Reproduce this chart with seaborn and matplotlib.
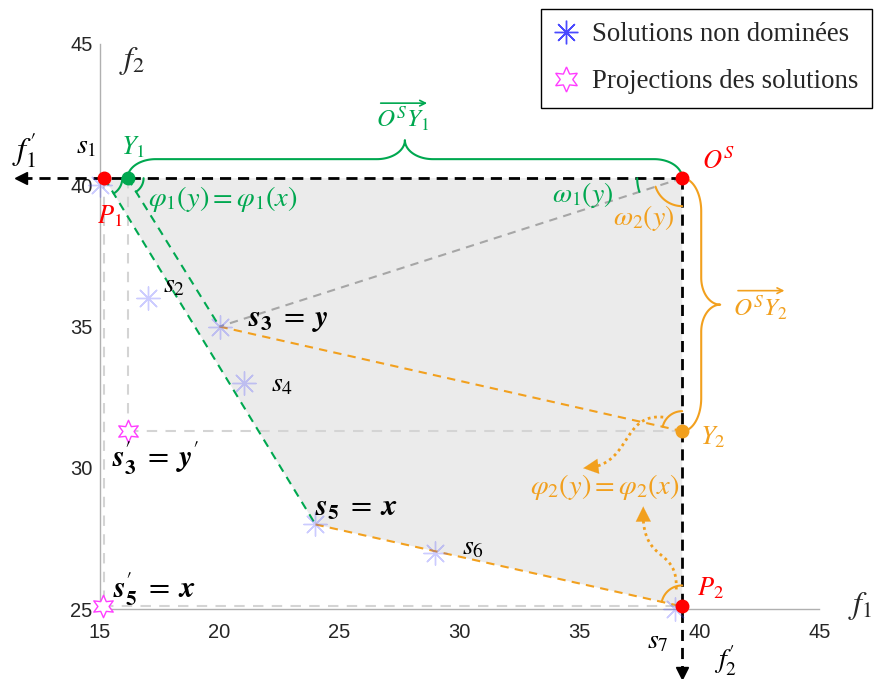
import numpy as np
import matplotlib.pyplot as plt
import seaborn as sns
from matplotlib.lines import Line2D

# Solutions non dominées (f1, f2)
sol_f1 = [15, 17, 20, 21, 24, 29, 39]
sol_f2 = [40, 36, 35, 33, 28, 27, 25]
sol_noms = ["$s_1$", "$s_2$", "$s_3$", "$s_4$", "$s_5$", "$s_6$", "$s_7$"]

# Projections des solutions s3' et s5'
proj_f1 = [16.17, 15.15]
proj_f2 = [31.3, 25.1]

# Points de référence
P1 = (15.2, 40.25)
Y1 = (16.17, 40.25)
OS = (39.28, 40.25)
Y2 = (39.28, 31.3)
P2 = (39.28, 25.1)
S3 = (sol_f1[2], sol_f2[2])
S5 = (sol_f1[4], sol_f2[4])

# fin des axes f1' et f2'
f1p_fin = 11.73
f2p_fin = 22.75

x_ticks = [15, 20, 25, 30, 35, 40, 45]
y_ticks = [25, 30, 35, 40, 45]

VERT = "#00a850"
ORANGE = "#f2a01e"
ROUGE = "#ff0000"
ROSE = "#ff3cff"
BLEU = "#4a4aff"

sns.set_style("white")
plt.rcParams["mathtext.fontset"] = "stix"
plt.rcParams["font.family"] = ["DejaVu Sans"]

fig = plt.figure(figsize=(8.79, 6.79), dpi=100)
ax = fig.add_axes([0.1132, 0.1027, 0.8191, 0.8327])
ax.set_xlim(15, 45)
ax.set_ylim(25, 45)

SX = 879 * 0.8191 / 30   # pixels par unité
SY = 679 * 0.8327 / 20


def px(p, dx, dy):
    return (p[0] + dx / SX, p[1] + dy / SY)


def angle(p, q):
    return np.degrees(np.arctan2((q[1] - p[1]) * SY, (q[0] - p[0]) * SX))


def arc(p, r, a0, a1, color, lw=1.5):
    t = np.radians(np.linspace(a0, a1, 40))
    ax.plot(p[0] + r * np.cos(t) / SX, p[1] + r * np.sin(t) / SY,
            color=color, lw=lw, clip_on=False, zorder=4)


def accolade(p0, p1, color, r1=28, r2=28, h1=19, h2=19):
    a = np.array([(p1[0] - p0[0]) * SX, (p1[1] - p0[1]) * SY])
    L = np.hypot(*a)
    u = a / L
    n = np.array([-u[1], u[0]])
    th = np.linspace(0, np.pi / 2, 30)
    s = np.concatenate([r1 - r1 * np.cos(th), L / 2 - r2 + r2 * np.sin(th)])
    t = np.concatenate([h1 * np.sin(th), h1 + h2 - h2 * np.cos(th)])
    s = np.concatenate([s, (L - s)[::-1]])
    t = np.concatenate([t, t[::-1]])
    xs = p0[0] + (s * u[0] + t * n[0]) / SX
    ys = p0[1] + (s * u[1] + t * n[1]) / SY
    ax.plot(xs, ys, color=color, lw=1.5, clip_on=False, zorder=4)
    mid = (L / 2) * u + (h1 + h2) * n
    return (p0[0] + mid[0] / SX, p0[1] + mid[1] / SY)


def fleche_pointillee(p, pts, color):
    q = np.array(pts, dtype=float)
    t = np.linspace(0, 1, 80)[:, None]
    b = ((1 - t) ** 3 * q[0] + 3 * (1 - t) ** 2 * t * q[1]
         + 3 * (1 - t) * t ** 2 * q[2] + t ** 3 * q[3])
    xs = p[0] + b[:, 0] / SX
    ys = p[1] + b[:, 1] / SY
    ax.plot(xs[:-4], ys[:-4], color=color, lw=2, ls=(0, (1, 1.3)), zorder=4)
    ax.annotate("", xy=(xs[-1], ys[-1]), xytext=(xs[-8], ys[-8]),
                arrowprops=dict(arrowstyle="-|>,head_length=0.6,head_width=0.3",
                                color=color, lw=0.1, mutation_scale=18,
                                shrinkA=0, shrinkB=0), zorder=4)


def lab(txt, p, dx, dy, color="black", size=20, ha="center"):
    ax.annotate(txt, xy=p, xytext=(dx, dy), textcoords="offset pixels",
                ha=ha, va="center", color=color, fontsize=size,
                annotation_clip=False, zorder=6)


# zone grisée
poly = np.array([P1, OS, P2, S5])
ax.fill(poly[:, 0], poly[:, 1], color="#ebebeb", zorder=0, lw=0)

# lignes de projection
gris = dict(color="#d4d4d4", lw=1.5, dashes=(5, 4), zorder=1)
ax.plot([P1[0], P1[0]], [P1[1], proj_f2[1]], **gris)
ax.plot([Y1[0], Y1[0]], [Y1[1], proj_f2[0]], **gris)
ax.plot([proj_f1[0], Y2[0]], [proj_f2[0], Y2[1]], **gris)
ax.plot([proj_f1[1], P2[0]], [proj_f2[1], P2[1]], **gris)

# segments
ax.plot([P1[0], S5[0]], [P1[1], S5[1]], color=VERT, lw=1.5, dashes=(4, 3), zorder=2)
ax.plot([Y1[0], S3[0]], [Y1[1], S3[1]], color=VERT, lw=1.5, dashes=(4, 3), zorder=2)
ax.plot([S3[0], Y2[0]], [S3[1], Y2[1]], color=ORANGE, lw=1.5, dashes=(4, 3), zorder=2)
ax.plot([S5[0], P2[0]], [S5[1], P2[1]], color=ORANGE, lw=1.5, dashes=(4, 3), zorder=2)
ax.plot([OS[0], S3[0]], [OS[1], S3[1]], color="#a6a6a6", lw=1.5, dashes=(4, 3), zorder=2)

# axes f1' et f2'
ax.plot([OS[0], f1p_fin], [OS[1], OS[1]], color="black", lw=2, dashes=(4, 2.5),
        clip_on=False, zorder=3)
ax.plot([OS[0], OS[0]], [OS[1], f2p_fin], color="black", lw=2, dashes=(4, 2.5),
        clip_on=False, zorder=3)
ax.plot([f1p_fin], [OS[1]], marker="<", ms=9, color="black", clip_on=False, zorder=3)
ax.plot([OS[0]], [f2p_fin], marker="v", ms=9, color="black", clip_on=False, zorder=3)

# solutions
sns.scatterplot(x=sol_f1, y=sol_f2, marker=(8, 2, 0), s=280, color=BLEU,
                edgecolor=BLEU, linewidth=1, alpha=0.28, ax=ax, legend=False,
                clip_on=False, zorder=3)
sns.scatterplot(x=proj_f1, y=proj_f2, marker=(6, 1, 0), s=260, facecolor="white",
                edgecolor=ROSE, linewidth=1, ax=ax, legend=False, clip_on=False,
                zorder=3)

# points particuliers
for p, c in [(P1, ROUGE), (OS, ROUGE), (P2, ROUGE), (Y1, VERT), (Y2, ORANGE)]:
    ax.plot([p[0]], [p[1]], "o", ms=9, color=c, clip_on=False, zorder=5)

# angles
arc(P1, 18, angle(P1, S5), 0, VERT)
arc(Y1, 16, angle(Y1, S3), 0, VERT)
arc(OS, 45, 180, angle(OS, S3) % 360, VERT)
arc(OS, 28, angle(OS, S3) % 360, 270, ORANGE)
arc(Y2, 20, 90, angle(Y2, S3), ORANGE)
arc(P2, 21, 90, angle(P2, S5), ORANGE)

# accolades
pv = accolade(Y1, OS, VERT)
po = accolade(OS, Y2, ORANGE, r1=33, r2=27)
lab("$O^SY_1$", pv, -2, 22, VERT, 18)
ax.annotate("", xy=px(pv, 25, 37), xytext=px(pv, -27, 37),
            arrowprops=dict(arrowstyle="->", color=VERT, lw=1.2), annotation_clip=False)
lab("$O^SY_2$", po, 40, -3, ORANGE, 18)
ax.annotate("", xy=px(po, 67, 14), xytext=px(po, 15, 14),
            arrowprops=dict(arrowstyle="->", color=ORANGE, lw=1.2), annotation_clip=False)

# flèches pointillées
fleche_pointillee(Y2, [(-19, 14), (-62, 18), (-50, -36), (-99, -37)], ORANGE)
fleche_pointillee(P2, [(-6, 17), (-4, 62), (-42, 40), (-39, 100)], ORANGE)

# étiquettes
lab(sol_noms[0], P1, -18, 33)
lab("$Y_1$", Y1, 5, 31, VERT, 19)
lab("$P_1$", P1, 5, -38, ROUGE, 19)
lab(sol_noms[1], (sol_f1[1], sol_f2[1]), 27, 14)
lab(r"$\mathbfit{s}_\mathbf{3}\;=\;\mathbfit{y}$", S3, 28, 7, size=22, ha="left")
lab(sol_noms[3], (sol_f1[3], sol_f2[3]), 27, 0, ha="left")
lab(r"$\mathbfit{s}^{\prime}_\mathbf{3}\;=\;\mathbfit{y}^{\prime}$", (proj_f1[0], proj_f2[0]),
    -16, -27, size=22, ha="left")
lab(r"$\mathbfit{s}_\mathbf{5}\;=\;\mathbfit{x}$", S5, 0, 17, size=22, ha="left")
lab(sol_noms[5], (sol_f1[5], sol_f2[5]), 27, 6, ha="left")
lab(r"$\mathbfit{s}^{\prime}_\mathbf{5}\;=\;\mathbfit{x}$", (proj_f1[1], proj_f2[1]),
    10, 17, size=22, ha="left")
lab(sol_noms[6], (sol_f1[6], sol_f2[6]), -18, -31)
lab("$P_2$", P2, 28, 18, ROUGE, 19)
lab("$Y_2$", Y2, 31, -6, ORANGE, 19)
lab("$O^S$", OS, 36, 16, ROUGE, 19)
lab(r"$\omega_1(y)$", OS, -100, -17, VERT, 20)
lab(r"$\omega_2(y)$", OS, -39, -40, ORANGE, 20)
lab(r"$\varphi_1(y) = \varphi_1(x)$", Y1, 20, -21, VERT, 20.5, ha="left")
lab(r"$\varphi_2(y) = \varphi_2(x)$", Y2, -77, -56, ORANGE, 20.5)
lab(r"$f^{\prime}_1$", (f1p_fin, OS[1]), 3, 28, size=23)
lab(r"$f^{\prime}_2$", (OS[0], f2p_fin), 43, 12, size=20)
ax.text(0.045, 0.97, "$f_2$", transform=ax.transAxes, fontsize=23, ha="center", va="center")
ax.text(1.057, 0.005, "$f_1$", transform=ax.transAxes, fontsize=23, ha="center", va="center")

# axes
ax.set_xticks(x_ticks)
ax.set_yticks(y_ticks)
for sp in ["top", "right"]:
    ax.spines[sp].set_visible(False)
for sp in ["left", "bottom"]:
    ax.spines[sp].set_color("#b0b0b0")
    ax.spines[sp].set_linewidth(1)
ax.tick_params(direction="in", length=5, color="#b0b0b0", labelsize=14.5)
ax.tick_params(axis="x", pad=10)
ax.tick_params(axis="y", pad=5)
for t in ax.get_xticklabels() + ax.get_yticklabels():
    t.set_fontfamily("Liberation Sans")

# légende
handles = [Line2D([], [], marker=(8, 2, 0), ls="none", color=BLEU, ms=17, mew=1),
           Line2D([], [], marker=(6, 1, 0), ls="none", mfc="white", mec=ROSE, ms=18, mew=1)]
leg = fig.legend(handles, ["Solutions non dominées", "Projections des solutions"],
                 loc="upper right", bbox_to_anchor=(872 / 879, 1 - 9 / 679),
                 frameon=True, fancybox=False, edgecolor="black", framealpha=1,
                 prop={"family": "Liberation Serif", "size": 19.3}, borderaxespad=0,
                 handlelength=0.85, handletextpad=0.55, labelspacing=0.82, borderpad=0.5)
leg.get_frame().set_linewidth(1)

fig.savefig("out.png", dpi=100)
